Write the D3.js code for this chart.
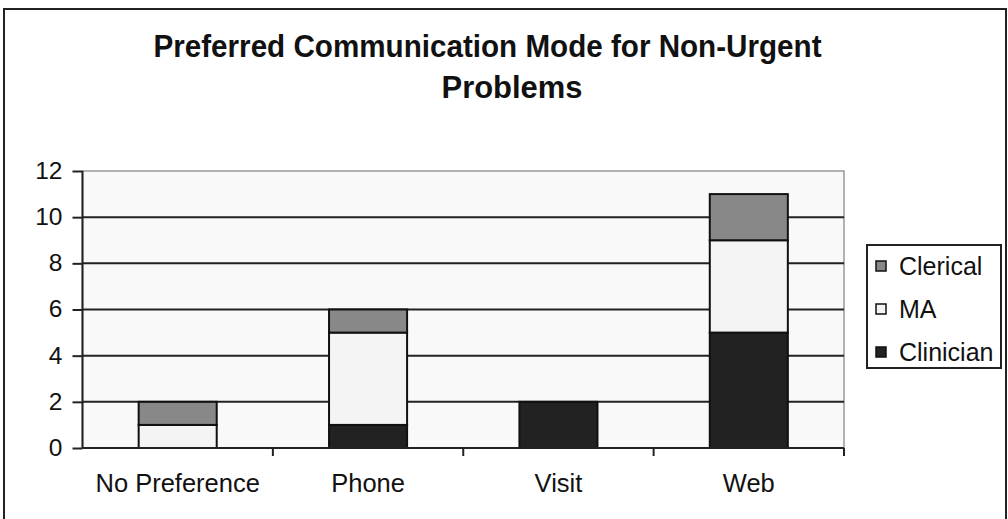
<!DOCTYPE html>
<html><head><meta charset="utf-8">
<script src="https://cdn.jsdelivr.net/npm/d3@7"></script>
<style>body{margin:0;background:#fff}svg{display:block}</style>
</head><body><svg id="c" width="1008" height="519"></svg>
<script>
const categories = ["No Preference", "Phone", "Visit", "Web"];
const seriesNames = ["Clinician", "MA", "Clerical"];
const clinician = [0, 1, 2, 5];
const ma = [1, 4, 0, 4];
const clerical = [1, 1, 0, 2];
const yTicks = [0, 2, 4, 6, 8, 10, 12];
const colors = {Clinician: "#222222", MA: "#f4f4f4", Clerical: "#888888"};
const legendOrder = ["Clerical", "MA", "Clinician"];
const titleLines = ["Preferred Communication Mode for Non-Urgent", "Problems"];

const svg = d3.select("#c");
const font = "'Liberation Sans', Arial, sans-serif";

// outer frame
svg.append("rect").attr("x", 4).attr("y", 9).attr("width", 1002).attr("height", 520)
  .attr("fill", "#fff").attr("stroke", "#222").attr("stroke-width", 2);

// title
const tl = [{x: 487.5, y: 57, w: 668}, {x: 512, y: 98, w: 141}];
titleLines.forEach((t, i) => {
  svg.append("text").attr("x", tl[i].x).attr("y", tl[i].y).attr("text-anchor", "middle")
    .attr("font-family", font).attr("font-weight", "bold").attr("font-size", 31)
    .attr("textLength", tl[i].w).attr("lengthAdjust", "spacingAndGlyphs")
    .attr("fill", "#111").text(t);
});

const x0 = 82.5, x1 = 844, yTop = 171, yBot = 448;
const x = d3.scaleBand().domain(categories).range([x0, x1]).paddingInner(0).paddingOuter(0);
const y = d3.scaleLinear().domain([0, 12]).range([yBot, yTop]);

// plot background
svg.append("rect").attr("x", x0).attr("y", yTop).attr("width", x1 - x0).attr("height", yBot - yTop)
  .attr("fill", "#f9f9f9").attr("stroke", "#999").attr("stroke-width", 1.5);

// gridlines
svg.append("g").selectAll("line").data(yTicks.filter(t => t > 0 && t < 12)).join("line")
  .attr("x1", x0).attr("x2", x1).attr("y1", d => y(d)).attr("y2", d => y(d))
  .attr("stroke", "#222").attr("stroke-width", 2);

// stacked data
const rows = categories.map((c, i) => ({cat: c, Clinician: clinician[i], MA: ma[i], Clerical: clerical[i]}));
const stack = d3.stack().keys(seriesNames)(rows);
const bw = x.bandwidth() * 0.41;
svg.append("g").selectAll("g").data(stack).join("g")
  .attr("fill", d => colors[d.key])
  .selectAll("rect").data(d => d.filter(s => s[1] - s[0] > 0)).join("rect")
  .attr("x", d => x(d.data.cat) + (x.bandwidth() - bw) / 2)
  .attr("width", bw)
  .attr("y", d => y(d[1]))
  .attr("height", d => y(d[0]) - y(d[1]))
  .attr("stroke", "#111").attr("stroke-width", 2);

// y axis
const yAxis = d3.axisLeft(y).tickValues(yTicks).tickSize(10).tickPadding(10);
const gy = svg.append("g").attr("transform", `translate(${x0},0)`).call(yAxis);
gy.select(".domain").attr("stroke", "#222").attr("stroke-width", 2).attr("d", `M0,${yTop}V${yBot}`);
gy.selectAll(".tick line").attr("stroke", "#222").attr("stroke-width", 2);
gy.selectAll(".tick text").attr("font-family", font).attr("font-size", 24.5).attr("fill", "#111").attr("dy", "0.3em");

// x axis
const xAxis = d3.axisBottom(x).tickSize(0).tickPadding(26);
const gx = svg.append("g").attr("transform", `translate(0,${yBot})`).call(xAxis);
gx.select(".domain").attr("stroke", "#222").attr("stroke-width", 2).attr("d", `M${x0},0H${x1}`);
gx.selectAll(".tick text").attr("font-family", font).attr("font-size", 25.5).attr("fill", "#111");
// category separators
const seps = categories.map(c => x(c)).concat([x1]).slice(1);
gx.selectAll("line.sep").data(seps).join("line").attr("class", "sep")
  .attr("x1", d => d).attr("x2", d => d).attr("y1", 0).attr("y2", 8)
  .attr("stroke", "#222").attr("stroke-width", 2);

// legend
const lg = svg.append("g");
lg.append("rect").attr("x", 867).attr("y", 245).attr("width", 134).attr("height", 123)
  .attr("fill", "#fff").attr("stroke", "#222").attr("stroke-width", 2);
legendOrder.forEach((k, i) => {
  const cy = 266 + i * 43;
  lg.append("rect").attr("x", 876).attr("y", cy - 5).attr("width", 10).attr("height", 10)
    .attr("fill", colors[k]).attr("stroke", "#111").attr("stroke-width", 1.5);
  lg.append("text").attr("x", 899).attr("y", cy).attr("dy", "0.36em")
    .attr("font-family", font).attr("font-size", 25).attr("fill", "#111").text(k);
});
</script></body></html>
